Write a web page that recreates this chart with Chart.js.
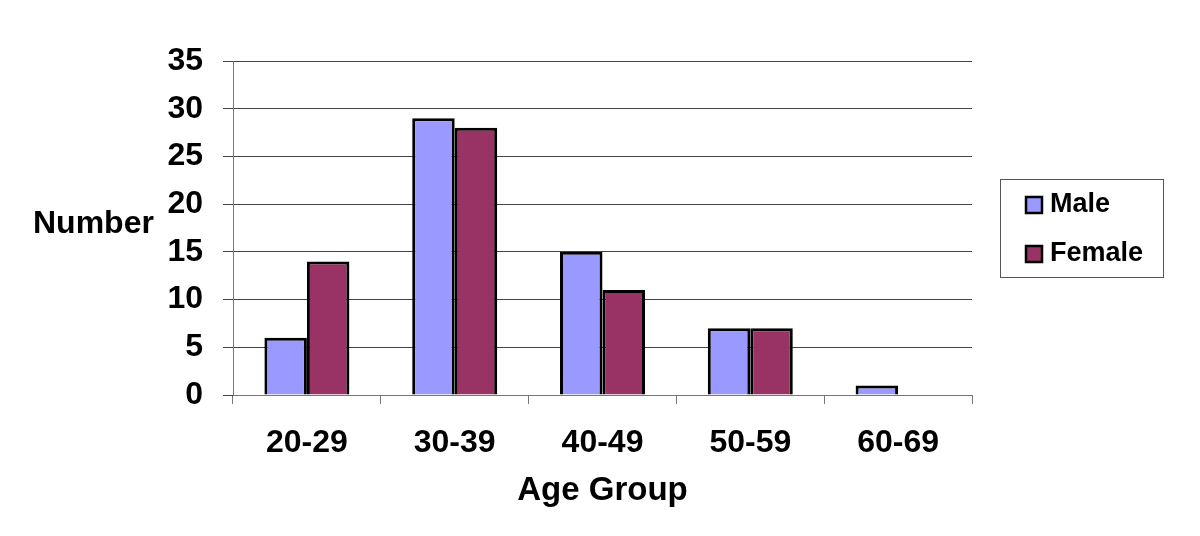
<!DOCTYPE html>
<html>
<head>
<meta charset="utf-8">
<script src="https://cdn.jsdelivr.net/npm/chart.js@4/dist/chart.umd.min.js"></script>
<style>
  html, body { margin: 0; padding: 0; background: #fff; }
  #wrap { width: 1200px; height: 536px; position: relative; }
</style>
</head>
<body>
<div id="wrap"><canvas id="myChart"></canvas></div>
<script>
const categories = ["20-29", "30-39", "40-49", "50-59", "60-69"];
const maleValues = [6, 29, 15, 7, 1];
const femaleValues = [14, 28, 11, 7, 0];
const yTicks = [0, 5, 10, 15, 20, 25, 30, 35];

const FONT = "'Liberation Sans', Arial, sans-serif";

// horizontal "Number" title and boxed legend
const extras = {
  id: "extras",
  afterDraw(chart) {
    const c = chart.ctx;
    c.save();
    c.fillStyle = "#000";
    c.font = "bold 32px " + FONT;
    c.textAlign = "left";
    c.textBaseline = "middle";
    c.fillText("Number", 33, 224);

    // legend box
    c.strokeStyle = "#555";
    c.lineWidth = 1;
    c.strokeRect(1000.5, 179.5, 163, 98);
    const items = [
      { label: "Male", color: "#9999FF", y: 205 },
      { label: "Female", color: "#993366", y: 254 },
    ];
    items.forEach((it) => {
      c.fillStyle = it.color;
      c.fillRect(1026, it.y - 8, 16, 16);
      c.strokeStyle = "#000";
      c.lineWidth = 2.5;
      c.strokeRect(1026, it.y - 8, 16, 16);
      c.fillStyle = "#000";
      c.font = "bold 27px " + FONT;
      c.fillText(it.label, 1050, it.y);
    });
    c.restore();
  },
};

const ctx = document.getElementById("myChart");

const chart = new Chart(ctx, {
  type: "bar",
  data: {
    labels: categories,
    datasets: [
      {
        label: "Male",
        data: maleValues,
        backgroundColor: "#9999FF",
        borderColor: "#000",
        borderWidth: 3,
        borderSkipped: "bottom",
      },
      {
        label: "Female",
        data: femaleValues,
        backgroundColor: "#993366",
        borderColor: "#000",
        borderWidth: 3,
        borderSkipped: "bottom",
      },
    ],
  },
  options: {
    responsive: true,
    maintainAspectRatio: false,
    animation: false,
    layout: { padding: { left: 0, top: 61, right: 228, bottom: 0 } },
    datasets: { bar: { categoryPercentage: 0.575, barPercentage: 1 } },
    plugins: { legend: { display: false }, tooltip: { enabled: false } },
    scales: {
      y: {
        min: 0,
        max: 35,
        afterBuildTicks: (axis) => {
          axis.ticks = yTicks.map((v) => ({ value: v }));
        },
        afterFit: (axis) => {
          axis.width = 233;
        },
        grid: { color: "#444", lineWidth: 1, tickLength: 10 },
        border: { color: "#777", width: 1 },
        ticks: {
          color: "#000",
          padding: 20,
          font: { family: FONT, size: 32, weight: "bold" },
        },
      },
      x: {
        afterFit: (axis) => {
          axis.height = 141;
        },
        grid: { offset: true, drawOnChartArea: false, color: "#777", tickLength: 9 },
        border: { color: "#777", width: 1 },
        ticks: {
          color: "#000",
          padding: 20,
          font: { family: FONT, size: 32, weight: "bold" },
        },
        title: {
          display: true,
          text: "Age Group",
          color: "#000",
          padding: { top: 4, bottom: 25 },
          font: { family: FONT, size: 33, weight: "bold" },
        },
      },
    },
  },
  plugins: [extras],
});
</script>
</body>
</html>
